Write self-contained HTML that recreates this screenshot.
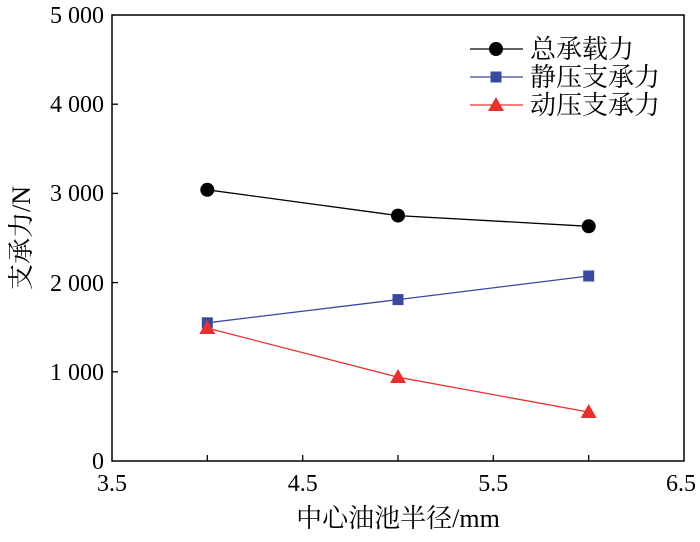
<!DOCTYPE html>
<html><head><meta charset="utf-8"><style>body{margin:0;background:#fff}</style></head><body>
<svg width="700" height="537" xmlns="http://www.w3.org/2000/svg" font-family="'Liberation Serif','Noto Serif CJK SC',serif">
<rect width="700" height="537" fill="#fff"/>
<rect x="112" y="15" width="572" height="446" fill="none" stroke="#000" stroke-width="1.5"/>
<g stroke="#000" stroke-width="1.3">
<line x1="112" y1="104.2" x2="118" y2="104.2"/><line x1="112" y1="193.4" x2="118" y2="193.4"/>
<line x1="112" y1="282.6" x2="118" y2="282.6"/><line x1="112" y1="371.8" x2="118" y2="371.8"/>
<line x1="207.3" y1="461" x2="207.3" y2="455"/><line x1="302.7" y1="461" x2="302.7" y2="455"/>
<line x1="398" y1="461" x2="398" y2="455"/><line x1="493.3" y1="461" x2="493.3" y2="455"/>
<line x1="588.7" y1="461" x2="588.7" y2="455"/>
</g>
<g font-size="24" text-anchor="end" fill="#000">
<text x="104" y="23">5 000</text><text x="104" y="112">4 000</text><text x="104" y="201">3 000</text>
<text x="104" y="291">2 000</text><text x="104" y="380">1 000</text><text x="104" y="469">0</text>
</g>
<g font-size="24" text-anchor="middle" fill="#000">
<text x="112" y="491">3.5</text><text x="302.7" y="491">4.5</text><text x="493.3" y="491">5.5</text><text x="681" y="491">6.5</text>
<text x="398" y="527" font-size="26">中心油池半径/mm</text>
</g>
<text transform="translate(30,238) rotate(-90)" font-size="26" text-anchor="middle">支承力/N</text>
<polyline points="207.3,189.8 398,215.6 588.7,226.3" fill="none" stroke="#000" stroke-width="1.3"/>
<polyline points="207.3,322.8 398,299.6 588.7,276.0" fill="none" stroke="#3a4a9a" stroke-width="1.3"/>
<polyline points="207.3,328.1 398,377.2 588.7,412.1" fill="none" stroke="#e8302e" stroke-width="1.3"/>
<g fill="#000"><circle cx="207.3" cy="189.8" r="7"/><circle cx="398" cy="215.6" r="7"/><circle cx="588.7" cy="226.3" r="7"/></g>
<g fill="#3a4a9a"><rect x="201.8" y="317.3" width="11" height="11"/><rect x="392.5" y="294.1" width="11" height="11"/><rect x="583.2" y="270.5" width="11" height="11"/></g>
<g fill="#e8302e"><polygon points="207.3,320 199.3,334 215.3,334"/><polygon points="398,369 390,383 406,383"/><polygon points="588.7,404 580.7,418 596.7,418"/></g>
<line x1="470" y1="49" x2="523" y2="49" stroke="#000" stroke-width="1.3"/><circle cx="496" cy="49" r="7"/>
<line x1="470" y1="77" x2="523" y2="77" stroke="#3a4a9a" stroke-width="1.3"/><rect x="490.5" y="71.5" width="11" height="11" fill="#3a4a9a"/>
<line x1="470" y1="105" x2="523" y2="105" stroke="#e8302e" stroke-width="1.3"/><polygon points="496,97 488,111 504,111" fill="#e8302e"/>
<g font-size="26" fill="#000"><text x="530" y="58">总承载力</text><text x="530" y="86">静压支承力</text><text x="530" y="114">动压支承力</text></g>
</svg>
</body></html>
